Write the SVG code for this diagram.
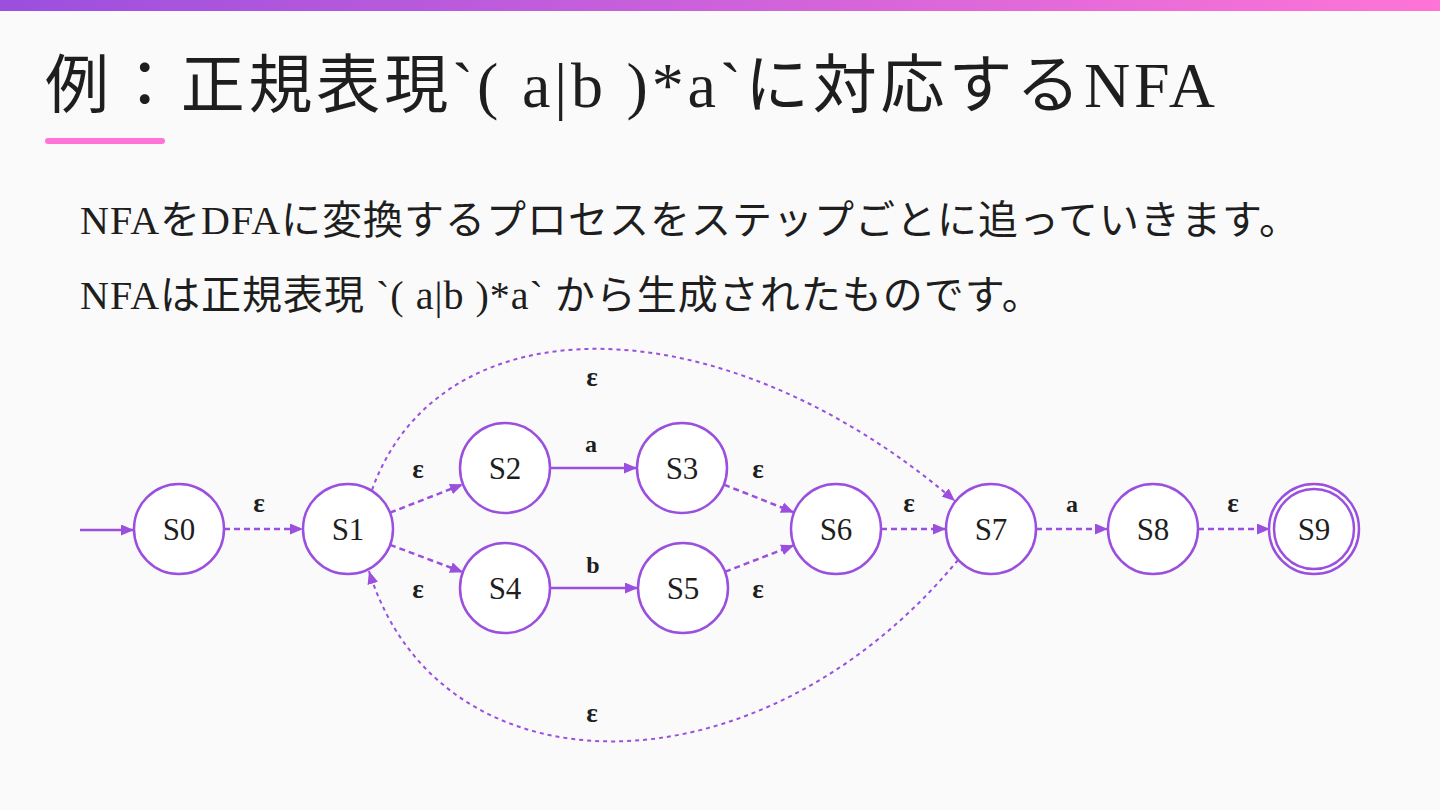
<svg xmlns="http://www.w3.org/2000/svg" width="1440" height="810" viewBox="0 0 1440 810">
<defs>
<linearGradient id="bar" x1="0" y1="0" x2="1" y2="0">
<stop offset="0" stop-color="#9b4fdf"/>
<stop offset="1" stop-color="#ff74d6"/>
</linearGradient>
<marker id="arr" viewBox="0 0 13 11" refX="13" refY="5.5" markerWidth="13" markerHeight="11" markerUnits="userSpaceOnUse" orient="auto">
<path d="M0,0 L13,5.5 L0,11 z" fill="#9b4fdf"/>
</marker>
<style>
.title{font-family:"Liberation Serif","Noto Sans CJK JP",serif;font-size:64px;fill:#1e1e1e}
.body{font-family:"Liberation Serif","Noto Sans CJK JP",serif;font-size:40px;fill:#1e1e1e;letter-spacing:1px}
.node circle{fill:#ffffff;stroke:#9b4fdf;stroke-width:2.5}
.node text{font-family:"Liberation Serif",serif;font-size:31px;fill:#1e1e1e;text-anchor:middle}
.edge{fill:none;stroke:#9b4fdf;stroke-width:2.5}
.dash{stroke-dasharray:6 4}
.curve{stroke-width:2;stroke-dasharray:4 4}
.lbl{font-family:"Liberation Serif",serif;font-size:24px;font-weight:bold;fill:#1e1e1e;text-anchor:middle}
.eps{font-size:27px}
</style>
</defs>
<rect x="0" y="0" width="1440" height="810" fill="#fafafa"/>
<rect x="0" y="0" width="1440" height="11" fill="url(#bar)"/>
<text class="title" x="45" y="107" textLength="1170" lengthAdjust="spacing">例：正規表現`( a|b )*a`に対応するNFA</text>
<rect x="45" y="138" width="120" height="6" rx="3" fill="#ff74d6"/>
<text class="body" x="80" y="234">NFAをDFAに変換するプロセスをステップごとに追っていきます。</text>
<text class="body" x="80" y="309">NFAは正規表現 `( a|b )*a` から生成されたものです。</text>

<g id="connectors">
<path class="edge" d="M80,530 L134,530" marker-end="url(#arr)"/>
<path class="edge dash" d="M224,529 L303,529" marker-end="url(#arr)"/>
<path class="edge dash" d="M390,512.7 L463,484.3" marker-end="url(#arr)"/>
<path class="edge dash" d="M390,544.8 L463,572.2" marker-end="url(#arr)"/>
<path class="edge" d="M550,468 L637,468" marker-end="url(#arr)"/>
<path class="edge" d="M550,588 L638,588" marker-end="url(#arr)"/>
<path class="edge dash" d="M724,484.6 L794,512.4" marker-end="url(#arr)"/>
<path class="edge dash" d="M725,571.8 L794,545.2" marker-end="url(#arr)"/>
<path class="edge dash" d="M881,529 L946,529" marker-end="url(#arr)"/>
<path class="edge dash" d="M1036,529 L1108,529" marker-end="url(#arr)"/>
<path class="edge dash" d="M1198,529 L1270,529" marker-end="url(#arr)"/>
<path class="edge curve" d="M372,490 C440,300 720,300 955,501" marker-end="url(#arr)"/>
<path class="edge curve" d="M958,560 C760,800 440,800 369,571" marker-end="url(#arr)"/>
<text class="lbl eps" x="259" y="512">ε</text>
<text class="lbl eps" x="418" y="478">ε</text>
<text class="lbl eps" x="418" y="598">ε</text>
<text class="lbl" x="591" y="452">a</text>
<text class="lbl" x="593" y="573">b</text>
<text class="lbl eps" x="758" y="478">ε</text>
<text class="lbl eps" x="758" y="598">ε</text>
<text class="lbl eps" x="909" y="512">ε</text>
<text class="lbl" x="1072" y="512">a</text>
<text class="lbl eps" x="1233" y="512">ε</text>
<text class="lbl eps" x="592" y="386">ε</text>
<text class="lbl eps" x="592" y="722">ε</text>
</g>

<g id="S0" class="node"><circle cx="179" cy="529" r="45"/><text x="179" y="540">S0</text></g>
<g id="S1" class="node"><circle cx="348" cy="529" r="45"/><text x="348" y="540">S1</text></g>
<g id="S2" class="node"><circle cx="505" cy="468" r="45"/><text x="505" y="479">S2</text></g>
<g id="S3" class="node"><circle cx="682" cy="468" r="45"/><text x="682" y="479">S3</text></g>
<g id="S4" class="node"><circle cx="505" cy="588" r="45"/><text x="505" y="599">S4</text></g>
<g id="S5" class="node"><circle cx="683" cy="588" r="45"/><text x="683" y="599">S5</text></g>
<g id="S6" class="node"><circle cx="836" cy="529" r="45"/><text x="836" y="540">S6</text></g>
<g id="S7" class="node"><circle cx="991" cy="529" r="45"/><text x="991" y="540">S7</text></g>
<g id="S8" class="node"><circle cx="1153" cy="529" r="45"/><text x="1153" y="540">S8</text></g>
<g id="S9" class="node"><circle cx="1314" cy="529" r="45"/><circle cx="1314" cy="529" r="40"/><text x="1314" y="540">S9</text></g>
</svg>
